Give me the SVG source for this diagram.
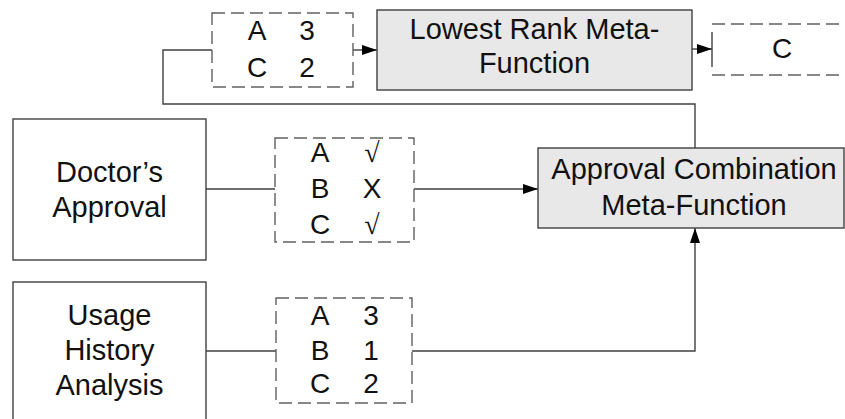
<svg xmlns="http://www.w3.org/2000/svg" width="845" height="419" viewBox="0 0 845 419">
<style>
text{font-family:"Liberation Sans",Arial,sans-serif;fill:#111;text-anchor:middle}
.lbl{font-size:29px}
.tb{font-size:28px}
.rad{font-family:"Liberation Serif","Times New Roman",serif;font-size:28px}
.box{fill:#fff;stroke:#404040;stroke-width:1.4}
.meta{fill:#e8e8e8;stroke:#404040;stroke-width:1.4}
.dash{fill:none;stroke:#606060;stroke-width:1.4;stroke-dasharray:13,6}
.con{fill:none;stroke:#404040;stroke-width:1.4}
</style>
<defs>
<marker id="ah" markerWidth="15" markerHeight="10" refX="15" refY="5" orient="auto" markerUnits="userSpaceOnUse">
<path d="M0,0 L15,5 L0,10 Z" fill="#000"/>
</marker>
</defs>
<g id="connectors">
<path class="con" d="M695,148 V104 H163 V50 H212"/>
<path class="con" d="M353,50 H377" marker-end="url(#ah)"/>
<path class="con" d="M692,49 H712" marker-end="url(#ah)"/>
<path class="con" d="M206,189 H275"/>
<path class="con" d="M414,189 H538" marker-end="url(#ah)"/>
<path class="con" d="M206,351 H276"/>
<path class="con" d="M412,351 H695 V228" marker-end="url(#ah)"/>
</g>
<g id="rank-table">
<rect class="dash" x="212" y="13" width="141" height="74"/>
<text class="tb" x="257" y="40">A</text><text class="tb" x="307" y="40">3</text>
<text class="tb" x="257" y="77">C</text><text class="tb" x="307" y="77">2</text>
</g>
<g id="lowest-rank">
<rect class="meta" x="377" y="10" width="315" height="80"/>
<text class="lbl" x="534.5" y="39">Lowest Rank Meta-</text>
<text class="lbl" x="534.5" y="73">Function</text>
</g>
<g id="result">
<path class="dash" d="M712,24 H860 M712,75 H860"/>
<path class="con" stroke="#606060" d="M712,32 V67"/>
<text class="tb" x="782" y="58">C</text>
</g>
<g id="doctor">
<rect class="box" x="13" y="119" width="193" height="141"/>
<text class="lbl" x="109.5" y="182">Doctor’s</text>
<text class="lbl" x="109.5" y="217">Approval</text>
</g>
<g id="doctor-table">
<rect class="dash" x="275" y="138" width="139" height="104"/>
<text class="tb" x="320" y="162">A</text><text class="rad" x="372" y="162">√</text>
<text class="tb" x="320" y="198">B</text><text class="tb" x="372" y="198">X</text>
<text class="tb" x="320" y="234">C</text><text class="rad" x="372" y="234">√</text>
</g>
<g id="approval-combination">
<rect class="meta" x="538" y="148" width="306" height="80"/>
<text class="lbl" x="694" y="179">Approval Combination</text>
<text class="lbl" x="694" y="215">Meta-Function</text>
</g>
<g id="usage">
<rect class="box" x="13" y="282" width="193" height="150"/>
<text class="lbl" x="109.5" y="325">Usage</text>
<text class="lbl" x="109.5" y="360">History</text>
<text class="lbl" x="109.5" y="395">Analysis</text>
</g>
<g id="usage-table">
<rect class="dash" x="276" y="298" width="136" height="105"/>
<text class="tb" x="320" y="325">A</text><text class="tb" x="371" y="325">3</text>
<text class="tb" x="320" y="360">B</text><text class="tb" x="371" y="360">1</text>
<text class="tb" x="320" y="393">C</text><text class="tb" x="371" y="393">2</text>
</g>
</svg>
